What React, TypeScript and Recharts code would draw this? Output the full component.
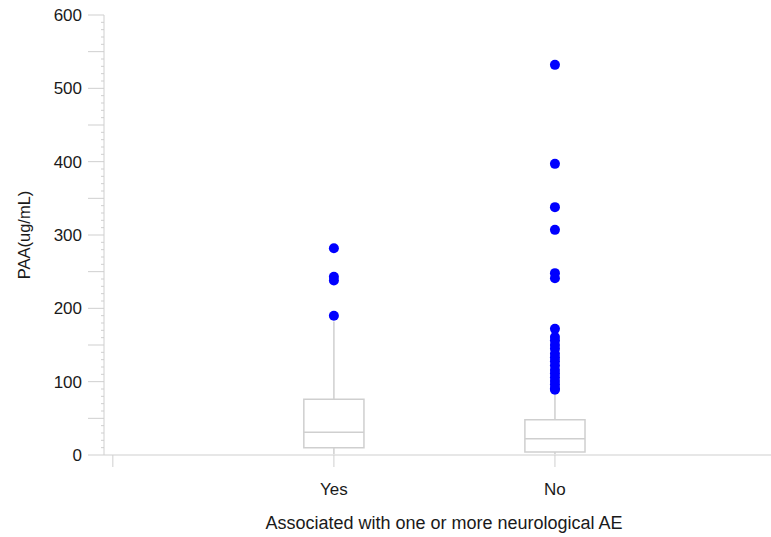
import React from 'react';
import {
  ComposedChart,
  Scatter,
  XAxis,
  YAxis,
  ReferenceArea,
  ReferenceLine,
} from 'recharts';

// groups and their box summaries (PAA, ug/mL)
const categories = ['Yes', 'No'];
const positions = [1, 2];
const whiskerLow = [1, 1];
const q1 = [10, 4];
const medians = [31, 22];
const q3 = [76, 48];
const whiskerHigh = [182, 82];

// outliers per group
const yesOutliers = [282, 243, 238, 190];
const noOutliers = [
  532, 397, 338, 307, 248, 241, 172, 161, 156, 150, 145, 138, 133, 128, 122,
  116, 111, 106, 101, 96, 91, 89,
];

// every 10 units gets a tick; 50s are long, 100s are labelled
const yTicks = Array.from({ length: 61 }, (_, i) => i * 10);
const xTicks = [0, 1, 2];

const outlierData = [
  ...yesOutliers.map((v) => ({ x: positions[0], y: v })),
  ...noOutliers.map((v) => ({ x: positions[1], y: v })),
];

const LINE = '#cfcfcf';
const TEXT = '#1a1a1a';
const FONT = '"Liberation Sans", Arial, Helvetica, sans-serif';
const HALF = 0.136;
const Y_GAP = 22; // distance from label end to axis line

const Dot = (p: any) => <circle cx={p.cx} cy={p.cy} r={5} fill="#0000ff" />;

const YTick = (p: any) => {
  const v = p.payload.value;
  const axisX = p.x + Y_GAP;
  const len = v % 50 === 0 ? 16 : 3;
  return (
    <g>
      <line x1={axisX - len} x2={axisX} y1={p.y} y2={p.y} stroke={LINE} />
      {v % 100 === 0 && (
        <text x={p.x} y={p.y} dy="0.36em" textAnchor="end" fill={TEXT} fontSize={17} fontFamily={FONT}>
          {v}
        </text>
      )}
    </g>
  );
};

const App = () => {
  return (
    <div style={{ position: 'absolute', left: 0, top: 0, width: 771, height: 537, overflow: 'hidden', background: '#fff' }}>
      <ComposedChart
        width={776}
        height={537}
        data={outlierData}
        margin={{ top: 15, right: 0, bottom: 0, left: 0 }}
        style={{ fontFamily: FONT }}
      >
        <XAxis
          dataKey="x"
          type="number"
          domain={[-0.04, 3]}
          ticks={xTicks}
          allowDataOverflow
          height={82}
          tickSize={12}
          tickMargin={16}
          stroke={LINE}
          tick={{ fill: TEXT, fontSize: 17 }}
          tickFormatter={(v: number) => (v >= 1 && v <= categories.length ? categories[v - 1] : '')}
          label={{
            content: (props: any) => {
              const vb = props.viewBox;
              return (
                <text x={vb.x + vb.width / 2 + 4} y={vb.y + 74} textAnchor="middle" fill={TEXT} fontSize={18} fontFamily={FONT}>
                  Associated with one or more neurological AE
                </text>
              );
            },
          }}
        />
        <XAxis xAxisId="top" orientation="top" type="number" domain={[-0.04, 3]} height={0} tick={false} tickLine={false} stroke={LINE} />
        <YAxis
          dataKey="y"
          type="number"
          domain={[0, 600]}
          ticks={yTicks}
          interval={0}
          allowDataOverflow
          width={104}
          tickSize={0}
          tickMargin={Y_GAP}
          tickLine={false}
          stroke={LINE}
          tick={YTick}
          label={{
            content: (props: any) => {
              const vb = props.viewBox;
              const cx = vb.x + 24;
              const cy = vb.y + vb.height / 2;
              return (
                <text x={cx} y={cy} transform={`rotate(-90, ${cx}, ${cy})`} textAnchor="middle" dominantBaseline="central" fill={TEXT} fontSize={16.5} fontFamily={FONT}>
                  PAA(ug/mL)
                </text>
              );
            },
          }}
        />
        {positions.map((pos, i) => (
          <ReferenceLine
            key={`wl${i}`}
            segment={[{ x: pos, y: whiskerLow[i] }, { x: pos, y: q1[i] }]}
            stroke={LINE}
            strokeWidth={1.5}
          />
        ))}
        {positions.map((pos, i) => (
          <ReferenceLine
            key={`wh${i}`}
            segment={[{ x: pos, y: q3[i] }, { x: pos, y: whiskerHigh[i] }]}
            stroke={LINE}
            strokeWidth={1.5}
          />
        ))}
        {positions.map((pos, i) => (
          <ReferenceArea
            key={`box${i}`}
            x1={pos - HALF}
            x2={pos + HALF}
            y1={q1[i]}
            y2={q3[i]}
            fill="#fff"
            fillOpacity={1}
            stroke={LINE}
            strokeWidth={1.5}
          />
        ))}
        {positions.map((pos, i) => (
          <ReferenceLine
            key={`med${i}`}
            segment={[{ x: pos - HALF, y: medians[i] }, { x: pos + HALF, y: medians[i] }]}
            stroke={LINE}
            strokeWidth={1.5}
          />
        ))}
        <Scatter data={outlierData} dataKey="y" shape={Dot} isAnimationActive={false} />
      </ComposedChart>
    </div>
  );
};

export default App;
